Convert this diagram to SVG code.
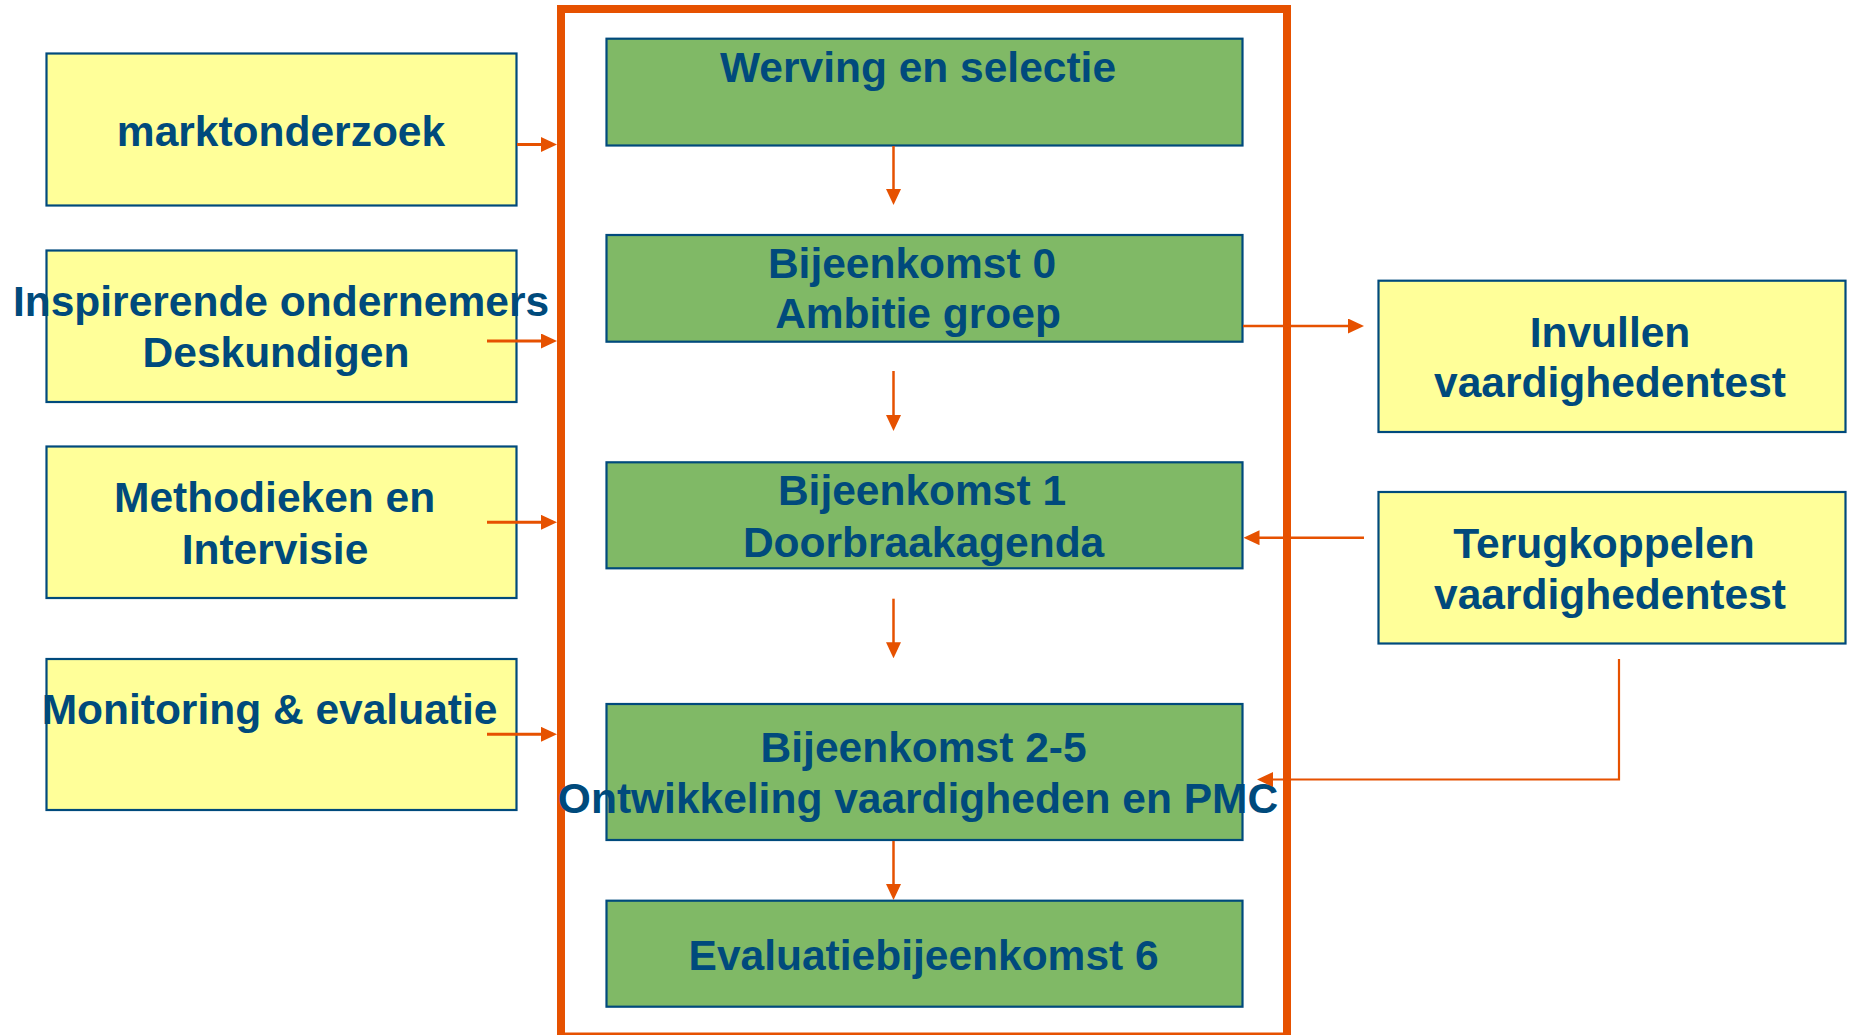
<svg xmlns="http://www.w3.org/2000/svg" width="1852" height="1035" viewBox="0 0 1852 1035">
<style>
.y{fill:#FFFF99;stroke:#004A7C;stroke-width:2.2}
.g{fill:#80B966;stroke:#004A7C;stroke-width:2.2}
.t{font-family:"Liberation Sans",Arial,sans-serif;font-weight:bold;font-size:42.5px;fill:#004A7C;text-anchor:middle}
.c{stroke:#E65100;fill:none}
.frame{stroke:#E65100;stroke-width:8;fill:none}
</style>
<defs>
<marker id="ah" viewBox="0 0 16 15" markerWidth="16" markerHeight="15" markerUnits="userSpaceOnUse" refX="12" refY="7.5" orient="auto">
<path d="M0,0 L16,7.5 L0,15 z" fill="#E65100"/>
</marker>
</defs>
<rect width="1852" height="1035" fill="#FFFFFF"/>
<rect id="frame" class="frame" x="561" y="9" width="726" height="1027.5"/>

<g id="n-marktonderzoek"><rect class="y" x="46.5" y="53.5" width="470" height="152"/><text class="t" x="281" y="145.5">marktonderzoek</text></g>
<g id="n-inspirerende"><rect class="y" x="46.5" y="250.5" width="470" height="151.5"/><text class="t" x="281" y="315.5">Inspirerende ondernemers</text><text class="t" x="276" y="366.5">Deskundigen</text></g>
<g id="n-methodieken"><rect class="y" x="46.5" y="446.5" width="470" height="151.5"/><text class="t" x="274.6" y="511.7">Methodieken en</text><text class="t" x="275" y="564">Intervisie</text></g>
<g id="n-monitoring"><rect class="y" x="46.5" y="659" width="470" height="151"/><text class="t" x="269.5" y="724.3">Monitoring &amp; evaluatie</text></g>

<g id="n-werving"><rect class="g" x="606.5" y="38.7" width="636" height="106.8"/><text class="t" x="918" y="81.7">Werving en selectie</text></g>
<g id="n-b0"><rect class="g" x="606.5" y="235" width="636" height="106.7"/><text class="t" x="912" y="277.7">Bijeenkomst 0</text><text class="t" x="918" y="328.3">Ambitie groep</text></g>
<g id="n-b1"><rect class="g" x="606.5" y="462.3" width="636" height="106"/><text class="t" x="922" y="505">Bijeenkomst 1</text><text class="t" x="923.6" y="556.7">Doorbraakagenda</text></g>
<g id="n-b25"><rect class="g" x="606.5" y="704" width="636" height="136"/><text class="t" x="923.6" y="762">Bijeenkomst 2-5</text><text class="t" x="918" y="812.7">Ontwikkeling vaardigheden en PMC</text></g>
<g id="n-b6"><rect class="g" x="606.5" y="900.7" width="636" height="106"/><text class="t" x="923.6" y="970">Evaluatiebijeenkomst 6</text></g>

<g id="n-invullen"><rect class="y" x="1378.5" y="280.7" width="467" height="151.3"/><text class="t" x="1610" y="346.7">Invullen</text><text class="t" x="1610" y="397.3">vaardighedentest</text></g>
<g id="n-terugkoppelen"><rect class="y" x="1378.5" y="492" width="467" height="151.5"/><text class="t" x="1604" y="558.3">Terugkoppelen</text><text class="t" x="1610" y="609.3">vaardighedentest</text></g>

<g id="connectors">
<line class="c" stroke-width="3" x1="517" y1="144.5" x2="553" y2="144.5" marker-end="url(#ah)"/>
<line class="c" stroke-width="3" x1="487" y1="341" x2="553" y2="341" marker-end="url(#ah)"/>
<line class="c" stroke-width="3" x1="487" y1="522.3" x2="553" y2="522.3" marker-end="url(#ah)"/>
<line class="c" stroke-width="3" x1="487" y1="734.3" x2="553" y2="734.3" marker-end="url(#ah)"/>
<line class="c" stroke-width="2.5" x1="893.5" y1="146" x2="893.5" y2="201" marker-end="url(#ah)"/>
<line class="c" stroke-width="2.5" x1="893.5" y1="371" x2="893.5" y2="427" marker-end="url(#ah)"/>
<line class="c" stroke-width="2.5" x1="893.5" y1="598.7" x2="893.5" y2="654.3" marker-end="url(#ah)"/>
<line class="c" stroke-width="2.5" x1="893.5" y1="841" x2="893.5" y2="896" marker-end="url(#ah)"/>
<line class="c" stroke-width="2.5" x1="1243" y1="326" x2="1360" y2="326" marker-end="url(#ah)"/>
<line class="c" stroke-width="2.5" x1="1364" y1="537.7" x2="1247.5" y2="537.7" marker-end="url(#ah)"/>
<polyline class="c" stroke-width="2.2" points="1619,659 1619,779.5 1261,779.5" marker-end="url(#ah)"/>
</g>
</svg>
